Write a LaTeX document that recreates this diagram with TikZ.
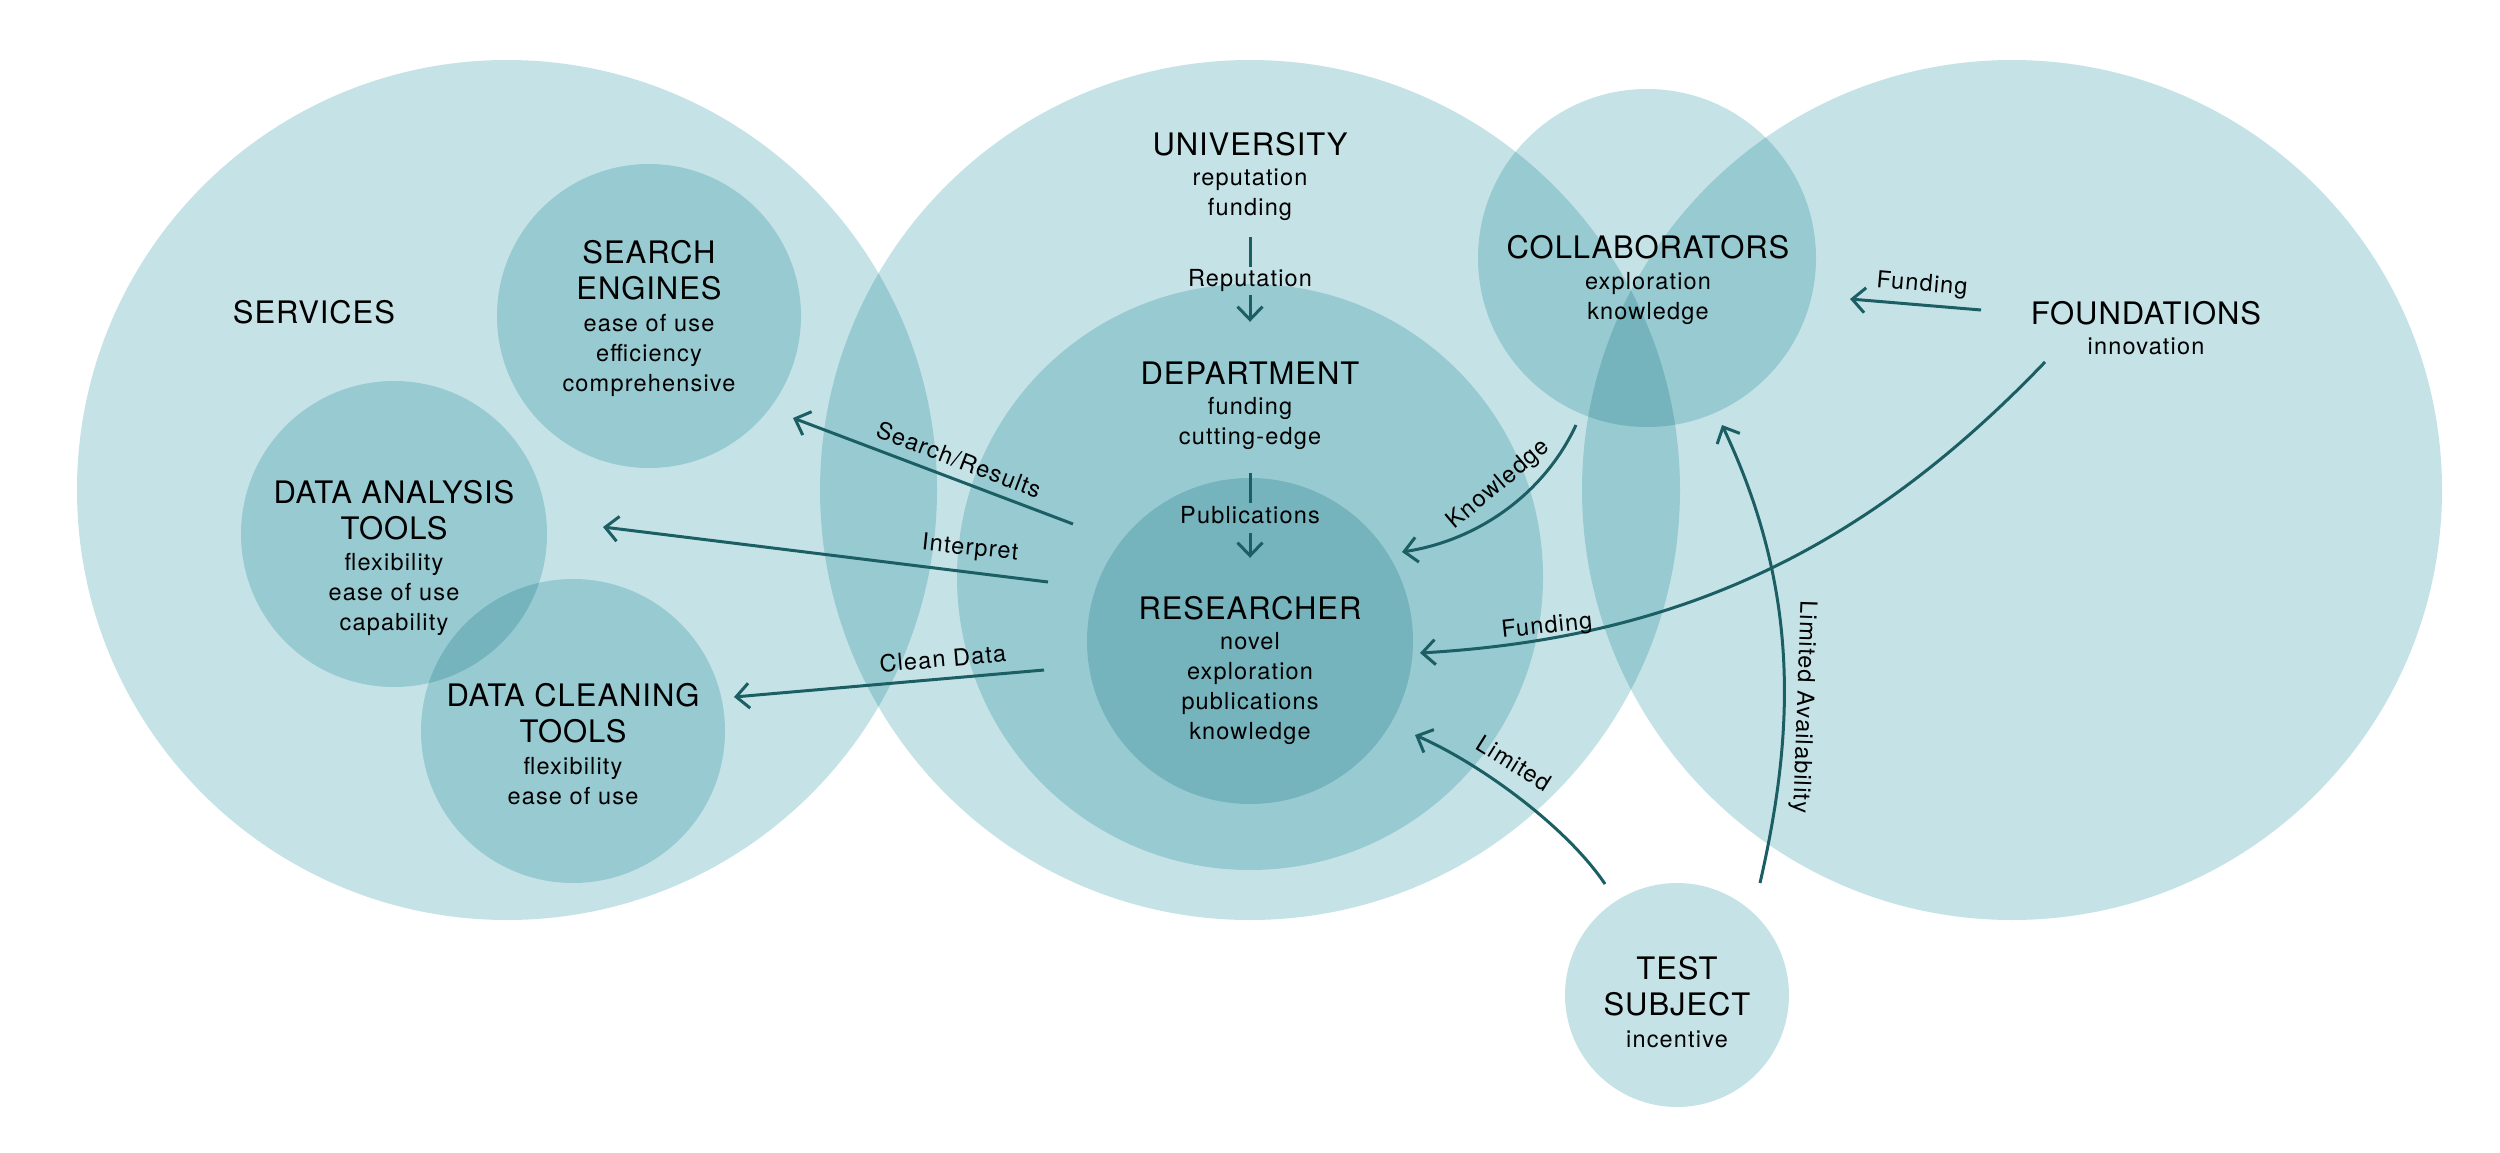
\documentclass[tikz,border=0pt]{standalone}
\usepackage{fontspec}
\setmainfont{TeX Gyre Heros}
\newfontfamily\hvsub[LetterSpace=5]{TeX Gyre Heros}
\newfontfamily\hvtitle[LetterSpace=3]{TeX Gyre Heros}
\usetikzlibrary{arrows.meta}
\definecolor{bub}{RGB}{197,227,231}
\definecolor{ink}{RGB}{27,94,99}
\tikzset{
  bubble/.style={circle, fill=bub, draw=none, inner sep=0pt, minimum size=#1},
  ttl/.style={align=center, inner sep=0pt, text=black, font=\hvtitle\fontsize{31}{36}\selectfont},
  sub/.style={align=center, inner sep=0pt, text=black, font=\hvsub\fontsize{23.5}{30}\selectfont},
  lbl/.style={inner sep=0pt, text=black, text height=17pt, text depth=5pt, font=\hvsub\fontsize{23.5}{30}\selectfont},
  conn/.style={draw=ink, line width=3pt},
  arr/.style={conn, -{Straight Barb[length=13pt,width=25pt]}},
}
\begin{document}
\begin{tikzpicture}[x=1pt,y=-1pt]
\useasboundingbox (0,0) rectangle (2500,1153);

% circles
\begin{scope}[blend mode=multiply]
\node[bubble=860pt] (services) at (507,490) {};
\node[bubble=860pt] (university) at (1250,490) {};
\node[bubble=860pt] (foundations) at (2012,490) {};
\node[bubble=586pt] (department) at (1250,577) {};
\node[bubble=326pt] (researcher) at (1250,641) {};
\node[bubble=338pt] (collab) at (1647,258) {};
\node[bubble=224pt] (testsub) at (1677,995) {};
\node[bubble=304pt] (search) at (649,316) {};
\node[bubble=306pt] (analysis) at (394,534) {};
\node[bubble=304pt] (cleaning) at (573,731) {};
\end{scope}

% texts
\node[ttl] (univT) at (1250,148) {\strut UNIVERSITY};
\node[sub] (univS) at (1250,194) {\strut reputation\\\strut funding};
\node[ttl] (deptT) at (1250,377) {\strut DEPARTMENT};
\node[sub] (deptS) at (1250,423) {\strut funding\\\strut cutting-edge};
\node[ttl] (resT) at (1250,612) {\strut RESEARCHER};
\node[sub] (resS) at (1250,688) {\strut novel\\\strut exploration\\\strut publications\\\strut knowledge};
\node[ttl] (colT) at (1648,251) {\strut COLLABORATORS};
\node[sub] (colS) at (1648,298) {\strut exploration\\\strut knowledge};
\node[ttl] (fouT) at (2146,317) {\strut FOUNDATIONS};
\node[sub] (fouS) at (2146,348) {\strut innovation};
\node[ttl] (serT) at (314,316) {\strut SERVICES};
\node[ttl] (seaT) at (649,274) {\strut SEARCH\\\strut ENGINES};
\node[sub] (seaS) at (649,355) {\strut ease of use\\\strut efficiency\\\strut comprehensive};
\node[ttl] (anaT) at (394,514) {\strut DATA ANALYSIS\\\strut TOOLS};
\node[sub] (anaS) at (394,594) {\strut flexibility\\\strut ease of use\\\strut capability};
\node[ttl] (clnT) at (573,717) {\strut DATA CLEANING\\\strut TOOLS};
\node[sub] (clnS) at (573,783) {\strut flexibility\\\strut ease of use};
\node[ttl] (tstT) at (1677,990) {\strut TEST\\\strut SUBJECT};
\node[sub] (tstS) at (1677,1041) {\strut incentive};

% vertical connectors
\node[lbl] (repL) at (1250,280) {Reputation};
\draw[conn, shorten <=13pt, shorten >=2pt] (univS.south) -- (repL.north);
\draw[arr, shorten <=4pt, shorten >=37pt] (repL.south) -- (deptT.north);
\node[lbl] (pubL) at (1250,517) {Publications};
\draw[conn, shorten <=20pt, shorten >=3pt] (deptS.south) -- (pubL.north);
\draw[arr, shorten <=5pt, shorten >=36pt] (pubL.south) -- (resT.north);

% connector end points
\coordinate (srA) at (1073,524);  \coordinate (srB) at (793,418);
\coordinate (inA) at (1048,582);  \coordinate (inB) at (603,527);
\coordinate (cdA) at (1044,670);  \coordinate (cdB) at (734,697);
\coordinate (knA) at (1576,425);  \coordinate (knB) at (1402,552);
\coordinate (fuA) at (2045,362);  \coordinate (fuB) at (1420,653);
\coordinate (liA) at (1605,884);  \coordinate (liB) at (1415,735);
\coordinate (laA) at (1760,883);  \coordinate (laB) at (1722,425);
\coordinate (fcA) at (1981,310);  \coordinate (fcB) at (1850,299);

\draw[arr] (srA) -- (srB);
\draw[arr] (inA) -- (inB);
\draw[arr] (cdA) -- (cdB);
\draw[arr] (knA) .. controls (1545,492) and (1480,540) .. (knB);
\draw[arr] (fuA) .. controls (1866,549) and (1680,638) .. (fuB);
\draw[arr] (liA) .. controls (1566,826) and (1479,763) .. (liB);
\draw[arr] (laA) .. controls (1795,730) and (1800,590) .. (laB);
\draw[arr] (fcA) -- (fcB);

% connector labels
\node[lbl, rotate=-21] (srL) at (958,462) {Search/Results};
\node[lbl, rotate=-6] (inL) at (970,549) {Interpret};
\node[lbl, rotate=5] (cdL) at (943,661) {Clean Data};
\node[lbl, rotate=40] (knL) at (1499,485) {Knowledge};
\node[lbl, rotate=6] (fuL) at (1547,627) {Funding};
\node[lbl, rotate=-32] (liL) at (1513,765) {Limited};
\node[lbl, rotate=-92] (laL) at (1803,707) {Limited Availability};
\node[lbl, rotate=-5] (fcL) at (1922,285) {Funding};
\end{tikzpicture}
\end{document}
